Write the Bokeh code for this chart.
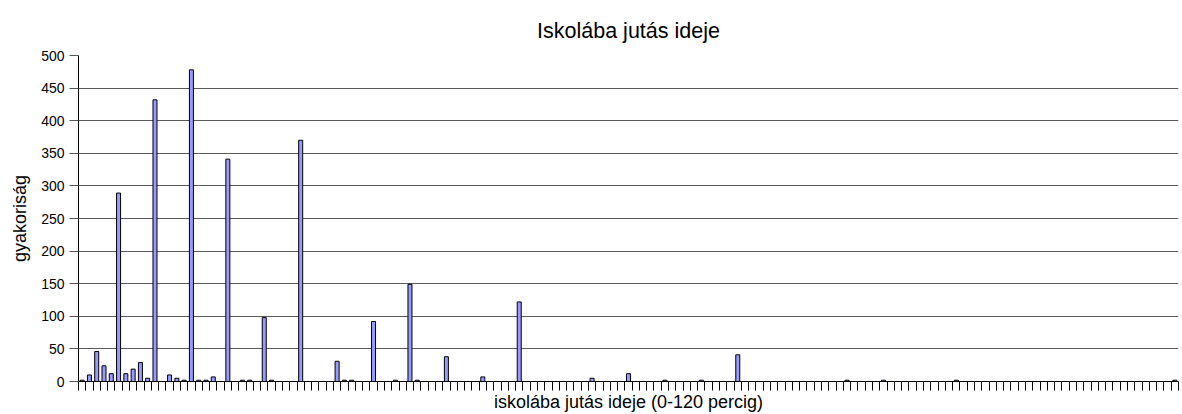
from bokeh.plotting import figure
from bokeh.models import Range1d, FixedTicker, ColumnDataSource, Title
from bokeh.embed import file_html
from bokeh.resources import INLINE

# Minutes 0..150 (one category per minute) and their frequencies
minutes = list(range(151))
counts = [
    2, 10, 46, 24, 12, 289, 12, 19, 29, 5,        # 0-9
    432, 0, 10, 5, 2, 478, 2, 2, 7, 0,            # 10-19
    341, 0, 2, 2, 0, 98, 2, 0, 0, 0,              # 20-29
    370, 0, 0, 0, 0, 31, 2, 2, 0, 0,              # 30-39
    92, 0, 0, 2, 0, 149, 2, 0, 0, 0,              # 40-49
    38, 0, 0, 0, 0, 7, 0, 0, 0, 0,                # 50-59
    122, 0, 0, 0, 0, 0, 0, 0, 0, 0,               # 60-69
    5, 0, 0, 0, 0, 12, 0, 0, 0, 0,                # 70-79
    2, 0, 0, 0, 0, 2, 0, 0, 0, 0,                 # 80-89
    41, 0, 0, 0, 0, 0, 0, 0, 0, 0,                # 90-99
    0, 0, 0, 0, 0, 2, 0, 0, 0, 0,                 # 100-109
    2, 0, 0, 0, 0, 0, 0, 0, 0, 0,                 # 110-119
    2, 0, 0, 0, 0, 0, 0, 0, 0, 0,                 # 120-129
    0, 0, 0, 0, 0, 0, 0, 0, 0, 0,                 # 130-139
    0, 0, 0, 0, 0, 0, 0, 0, 0, 0,                 # 140-149
    2,                                            # 150
]
y_ticks = [0, 50, 100, 150, 200, 250, 300, 350, 400, 450, 500]

title_text = "Iskolába jutás ideje"
x_label = "iskolába jutás ideje (0-120 percig)"
y_label = "gyakoriság"

FONT = "Liberation Sans"

src = ColumnDataSource(dict(
    x=[m + 0.5 for m in minutes],
    top=counts,
    la=[1.0 if c > 0 else 0.0 for c in counts],
))

p = figure(
    frame_width=1100, frame_height=326,
    min_border_left=78, min_border_right=2, min_border_top=55, min_border_bottom=31,
    x_range=Range1d(0, len(minutes)), y_range=Range1d(0, 500),
    output_backend="svg", toolbar_location=None, tools="",
    title=None,
)
p.background_fill_color = "white"
p.border_fill_color = "white"
p.outline_line_color = None

# spacer panel between frame and title, then the title itself
p.add_layout(Title(text=" ", text_font_size="6px", standoff=0), "above")
p.add_layout(Title(text=title_text, align="center", text_font=FONT,
                   text_font_size="21.5px", text_font_style="normal",
                   text_color="black"), "above")

p.vbar(x="x", top="top", width=0.55, bottom=0, source=src,
       fill_color="#9999FF", line_color="black", line_width=1, line_alpha="la")

# Y axis
p.yaxis.ticker = FixedTicker(ticks=y_ticks)
p.yaxis.minor_tick_line_color = None
p.yaxis.major_tick_in = 0
p.yaxis.major_tick_out = 9
p.yaxis.major_label_standoff = 5
p.yaxis.major_label_text_font = FONT
p.yaxis.major_label_text_font_size = "14px"
p.yaxis.major_label_text_color = "black"
p.yaxis.axis_line_color = "black"
p.yaxis.major_tick_line_color = "#555555"
p.yaxis.axis_label = y_label
p.yaxis.axis_label_text_font = FONT
p.yaxis.axis_label_text_font_size = "18px"
p.yaxis.axis_label_text_font_style = "normal"
p.yaxis.axis_label_text_color = "black"
p.yaxis.axis_label_standoff = 8

# X axis: tick marks at category boundaries, no labels
p.xaxis.ticker = FixedTicker(ticks=list(range(len(minutes) + 1)))
p.xaxis.minor_tick_line_color = None
p.xaxis.major_tick_in = 0
p.xaxis.major_tick_out = 9
p.xaxis.major_label_text_font_size = "1px"
p.xaxis.major_label_text_alpha = 0
p.xaxis.major_label_standoff = 0
p.xaxis.axis_line_color = "black"
p.xaxis.major_tick_line_color = "black"
p.xaxis.axis_label = x_label
p.xaxis.axis_label_text_font = FONT
p.xaxis.axis_label_text_font_size = "18px"
p.xaxis.axis_label_text_font_style = "normal"
p.xaxis.axis_label_text_color = "black"
p.xaxis.axis_label_standoff = 1

p.xgrid.grid_line_color = None
p.ygrid.ticker = FixedTicker(ticks=y_ticks)
p.ygrid.grid_line_color = "#5a5a5a"
p.ygrid.grid_line_width = 1

open("out.html", "w").write(file_html(p, INLINE))
